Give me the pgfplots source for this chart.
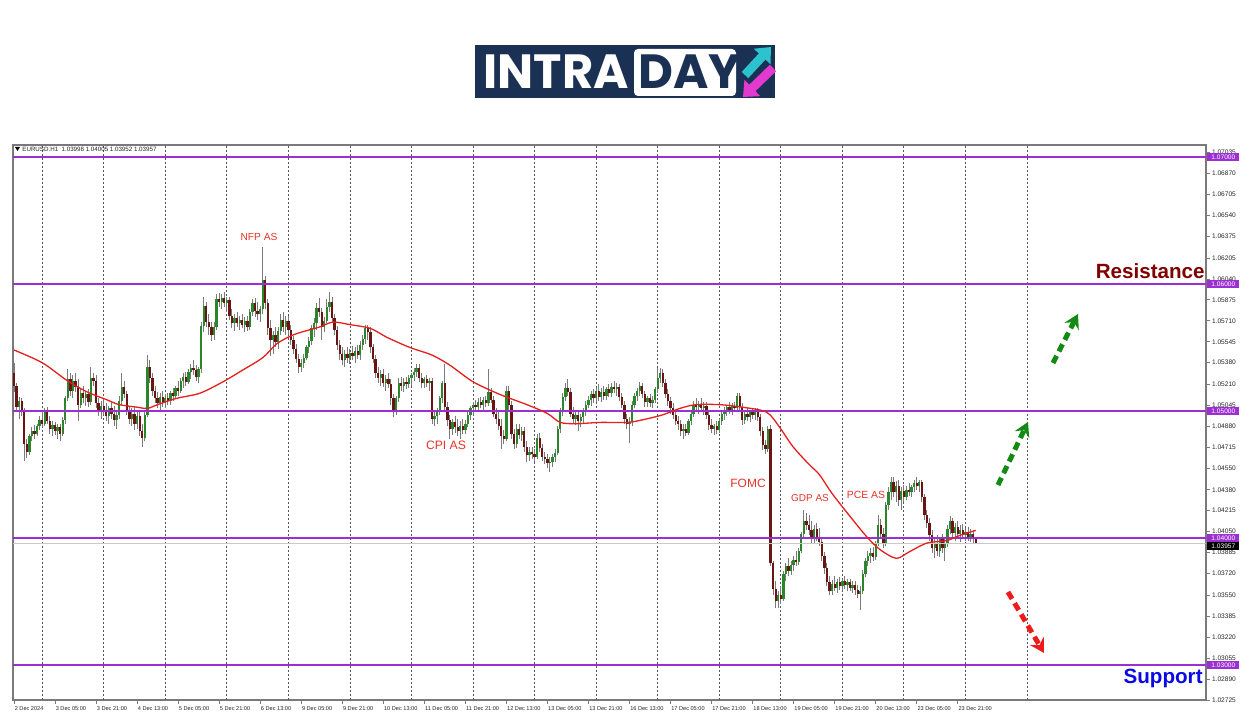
\documentclass[border=0pt]{standalone}
\usepackage{pgfplots}
\pgfplotsset{compat=1.18}
\usepackage{pgfplotstable}
\usepackage{fontspec}
\setmainfont{Liberation Sans}
\newfontfamily\logofont{Poppins}
\usetikzlibrary{arrows.meta}
\definecolor{bullc}{HTML}{2B862B}
\definecolor{bearc}{HTML}{6A1414}
\definecolor{wickc}{HTML}{7A7A7A}
\definecolor{mac}{HTML}{E5201E}
\definecolor{purplec}{HTML}{9B2FD1}
\definecolor{gridc}{HTML}{555555}
\definecolor{framec}{HTML}{7A7A7A}
\definecolor{labred}{HTML}{E4342B}
\definecolor{arrgreen}{HTML}{138A13}
\definecolor{arrred}{HTML}{F01A1A}
\definecolor{navy}{HTML}{1B3154}
\definecolor{cyanc}{HTML}{2CC3CE}
\definecolor{magc}{HTML}{E23ACF}
\definecolor{resc}{HTML}{800000}
\definecolor{supc}{HTML}{0A0AE6}
\definecolor{bidc}{HTML}{C8C8C8}
\newcommand{\mtfont}{\fontsize{3.3}{4}\selectfont}
\newcommand{\xfont}{\fontsize{2.8}{3.4}\selectfont}
\pgfplotstableread{
i o h l c
0 1.0530 1.0538 1.0515 1.0520
1 1.0520 1.0522 1.0500 1.0503
2 1.0503 1.0511 1.0494 1.0508
3 1.0508 1.0510 1.0496 1.0500
4 1.0500 1.0502 1.0461 1.0474
5 1.0474 1.0478 1.0463 1.0468
6 1.0468 1.0482 1.0465 1.0480
7 1.0480 1.0487 1.0476 1.0484
8 1.0484 1.0489 1.0478 1.0482
9 1.0482 1.0490 1.0480 1.0488
10 1.0488 1.0496 1.0485 1.0493
11 1.0493 1.0500 1.0487 1.0490
12 1.0490 1.0502 1.0488 1.0499
13 1.0499 1.0503 1.0490 1.0492
14 1.0492 1.0496 1.0482 1.0486
15 1.0486 1.0492 1.0480 1.0489
16 1.0489 1.0491 1.0481 1.0484
17 1.0484 1.0490 1.0478 1.0487
18 1.0487 1.0490 1.0476 1.0482
19 1.0482 1.0495 1.0480 1.0493
20 1.0493 1.0512 1.0490 1.0510
21 1.0510 1.0533 1.0508 1.0525
22 1.0525 1.0530 1.0512 1.0516
23 1.0516 1.0528 1.0510 1.0524
24 1.0524 1.0530 1.0515 1.0519
25 1.0519 1.0525 1.0492 1.0505
26 1.0505 1.0518 1.0502 1.0514
27 1.0514 1.0520 1.0506 1.0510
28 1.0510 1.0516 1.0504 1.0513
29 1.0513 1.0517 1.0503 1.0507
30 1.0507 1.0535 1.0505 1.0526
31 1.0526 1.0530 1.0520 1.0524
32 1.0524 1.0528 1.0502 1.0506
33 1.0506 1.0510 1.0496 1.0500
34 1.0500 1.0508 1.0494 1.0504
35 1.0504 1.0510 1.0497 1.0500
36 1.0500 1.0506 1.0492 1.0496
37 1.0496 1.0504 1.0490 1.0502
38 1.0502 1.0508 1.0494 1.0498
39 1.0498 1.0504 1.0488 1.0493
40 1.0493 1.0500 1.0486 1.0497
41 1.0497 1.0512 1.0494 1.0508
42 1.0508 1.0530 1.0505 1.0519
43 1.0519 1.0524 1.0510 1.0513
44 1.0513 1.0516 1.0497 1.0500
45 1.0500 1.0504 1.0490 1.0494
46 1.0494 1.0502 1.0488 1.0498
47 1.0498 1.0504 1.0485 1.0490
48 1.0490 1.0500 1.0486 1.0496
49 1.0496 1.0499 1.0480 1.0484
50 1.0484 1.0490 1.0472 1.0479
51 1.0479 1.0500 1.0476 1.0497
52 1.0497 1.0544 1.0495 1.0535
53 1.0535 1.0540 1.0522 1.0526
54 1.0526 1.0530 1.0512 1.0516
55 1.0516 1.0520 1.0506 1.0510
56 1.0510 1.0515 1.0502 1.0506
57 1.0506 1.0514 1.0500 1.0511
58 1.0511 1.0516 1.0503 1.0507
59 1.0507 1.0513 1.0502 1.0510
60 1.0510 1.0514 1.0505 1.0508
61 1.0508 1.0516 1.0505 1.0514
62 1.0514 1.0518 1.0508 1.0512
63 1.0512 1.0520 1.0510 1.0518
64 1.0518 1.0524 1.0512 1.0516
65 1.0516 1.0526 1.0514 1.0524
66 1.0524 1.0530 1.0518 1.0527
67 1.0527 1.0531 1.0520 1.0523
68 1.0523 1.0533 1.0521 1.0531
69 1.0531 1.0537 1.0525 1.0534
70 1.0534 1.0540 1.0528 1.0532
71 1.0532 1.0536 1.0524 1.0527
72 1.0527 1.0535 1.0522 1.0533
73 1.0533 1.0570 1.0530 1.0567
74 1.0567 1.0590 1.0562 1.0583
75 1.0583 1.0586 1.0566 1.0570
76 1.0570 1.0576 1.0560 1.0566
77 1.0566 1.0570 1.0555 1.0560
78 1.0560 1.0570 1.0556 1.0566
79 1.0566 1.0592 1.0564 1.0588
80 1.0588 1.0593 1.0582 1.0586
81 1.0586 1.0592 1.0580 1.0589
82 1.0589 1.0594 1.0582 1.0585
83 1.0585 1.0590 1.0578 1.0587
84 1.0587 1.0590 1.0572 1.0575
85 1.0575 1.0580 1.0565 1.0569
86 1.0569 1.0576 1.0563 1.0573
87 1.0573 1.0578 1.0566 1.0569
88 1.0569 1.0575 1.0564 1.0572
89 1.0572 1.0576 1.0565 1.0568
90 1.0568 1.0574 1.0562 1.0571
91 1.0571 1.0575 1.0563 1.0566
92 1.0566 1.0580 1.0564 1.0578
93 1.0578 1.0588 1.0575 1.0585
94 1.0585 1.0589 1.0574 1.0579
95 1.0579 1.0586 1.0572 1.0576
96 1.0576 1.0583 1.0570 1.0580
97 1.0580 1.0629 1.0576 1.0603
98 1.0603 1.0606 1.0580 1.0585
99 1.0585 1.0588 1.0560 1.0565
100 1.0565 1.0572 1.0543 1.0556
101 1.0556 1.0563 1.0545 1.0560
102 1.0560 1.0566 1.0550 1.0554
103 1.0554 1.0566 1.0549 1.0563
104 1.0563 1.0576 1.0560 1.0572
105 1.0572 1.0578 1.0562 1.0566
106 1.0566 1.0575 1.0560 1.0571
107 1.0571 1.0575 1.0560 1.0564
108 1.0564 1.0568 1.0552 1.0556
109 1.0556 1.0559 1.0545 1.0549
110 1.0549 1.0553 1.0538 1.0541
111 1.0541 1.0545 1.0530 1.0535
112 1.0535 1.0541 1.0531 1.0538
113 1.0538 1.0545 1.0534 1.0542
114 1.0542 1.0552 1.0540 1.0550
115 1.0550 1.0558 1.0546 1.0555
116 1.0555 1.0568 1.0552 1.0565
117 1.0565 1.0573 1.0558 1.0569
118 1.0569 1.0585 1.0564 1.0581
119 1.0581 1.0589 1.0574 1.0578
120 1.0578 1.0581 1.0556 1.0566
121 1.0566 1.0574 1.0562 1.0571
122 1.0571 1.0588 1.0569 1.0582
123 1.0582 1.0594 1.0578 1.0586
124 1.0586 1.0590 1.0570 1.0573
125 1.0573 1.0576 1.0560 1.0564
126 1.0564 1.0567 1.0548 1.0552
127 1.0552 1.0556 1.0540 1.0545
128 1.0545 1.0550 1.0536 1.0540
129 1.0540 1.0548 1.0535 1.0545
130 1.0545 1.0550 1.0538 1.0542
131 1.0542 1.0549 1.0537 1.0546
132 1.0546 1.0551 1.0540 1.0543
133 1.0543 1.0550 1.0538 1.0547
134 1.0547 1.0552 1.0541 1.0544
135 1.0544 1.0555 1.0540 1.0552
136 1.0552 1.0560 1.0548 1.0557
137 1.0557 1.0568 1.0553 1.0565
138 1.0565 1.0568 1.0556 1.0562
139 1.0562 1.0566 1.0546 1.0550
140 1.0550 1.0553 1.0538 1.0541
141 1.0541 1.0544 1.0526 1.0530
142 1.0530 1.0535 1.0522 1.0526
143 1.0526 1.0532 1.0520 1.0529
144 1.0529 1.0533 1.0519 1.0522
145 1.0522 1.0528 1.0516 1.0525
146 1.0525 1.0530 1.0518 1.0521
147 1.0521 1.0525 1.0505 1.0510
148 1.0510 1.0513 1.0495 1.0500
149 1.0500 1.0512 1.0497 1.0510
150 1.0510 1.0526 1.0507 1.0522
151 1.0522 1.0527 1.0516 1.0520
152 1.0520 1.0526 1.0515 1.0523
153 1.0523 1.0527 1.0517 1.0521
154 1.0521 1.0528 1.0518 1.0526
155 1.0526 1.0530 1.0520 1.0528
156 1.0528 1.0534 1.0524 1.0531
157 1.0531 1.0537 1.0527 1.0534
158 1.0534 1.0537 1.0523 1.0526
159 1.0526 1.0530 1.0518 1.0522
160 1.0522 1.0527 1.0518 1.0525
161 1.0525 1.0528 1.0519 1.0522
162 1.0522 1.0526 1.0516 1.0524
163 1.0524 1.0526 1.0490 1.0494
164 1.0494 1.0500 1.0488 1.0496
165 1.0496 1.0502 1.0490 1.0499
166 1.0499 1.0512 1.0497 1.0510
167 1.0510 1.0524 1.0506 1.0522
168 1.0522 1.0537 1.0500 1.0503
169 1.0503 1.0507 1.0488 1.0493
170 1.0493 1.0497 1.0478 1.0486
171 1.0486 1.0494 1.0481 1.0491
172 1.0491 1.0496 1.0483 1.0487
173 1.0487 1.0494 1.0480 1.0484
174 1.0484 1.0492 1.0478 1.0488
175 1.0488 1.0494 1.0482 1.0485
176 1.0485 1.0493 1.0482 1.0490
177 1.0490 1.0499 1.0487 1.0497
178 1.0497 1.0504 1.0493 1.0502
179 1.0502 1.0507 1.0497 1.0505
180 1.0505 1.0509 1.0500 1.0503
181 1.0503 1.0510 1.0499 1.0507
182 1.0507 1.0511 1.0502 1.0505
183 1.0505 1.0511 1.0501 1.0509
184 1.0509 1.0512 1.0503 1.0506
185 1.0506 1.0533 1.0504 1.0515
186 1.0515 1.0518 1.0506 1.0509
187 1.0509 1.0512 1.0495 1.0498
188 1.0498 1.0502 1.0490 1.0494
189 1.0494 1.0500 1.0485 1.0488
190 1.0488 1.0494 1.0470 1.0480
191 1.0480 1.0485 1.0474 1.0478
192 1.0478 1.0520 1.0476 1.0516
193 1.0516 1.0520 1.0500 1.0505
194 1.0505 1.0508 1.0478 1.0482
195 1.0482 1.0486 1.0470 1.0474
196 1.0474 1.0490 1.0471 1.0486
197 1.0486 1.0490 1.0478 1.0481
198 1.0481 1.0487 1.0476 1.0484
199 1.0484 1.0487 1.0468 1.0472
200 1.0472 1.0476 1.0460 1.0465
201 1.0465 1.0472 1.0461 1.0468
202 1.0468 1.0472 1.0462 1.0466
203 1.0466 1.0470 1.0460 1.0464
204 1.0464 1.0482 1.0462 1.0479
205 1.0479 1.0483 1.0468 1.0471
206 1.0471 1.0474 1.0461 1.0464
207 1.0464 1.0468 1.0458 1.0462
208 1.0462 1.0466 1.0455 1.0459
209 1.0459 1.0464 1.0452 1.0460
210 1.0460 1.0466 1.0456 1.0464
211 1.0464 1.0470 1.0460 1.0467
212 1.0467 1.0488 1.0465 1.0486
213 1.0486 1.0502 1.0483 1.0499
214 1.0499 1.0514 1.0496 1.0511
215 1.0511 1.0522 1.0508 1.0518
216 1.0518 1.0525 1.0512 1.0515
217 1.0515 1.0518 1.0495 1.0498
218 1.0498 1.0503 1.0490 1.0494
219 1.0494 1.0500 1.0489 1.0497
220 1.0497 1.0501 1.0484 1.0492
221 1.0492 1.0498 1.0487 1.0495
222 1.0495 1.0502 1.0490 1.0499
223 1.0499 1.0508 1.0496 1.0505
224 1.0505 1.0512 1.0502 1.0509
225 1.0509 1.0516 1.0504 1.0513
226 1.0513 1.0517 1.0506 1.0510
227 1.0510 1.0518 1.0507 1.0516
228 1.0516 1.0521 1.0508 1.0511
229 1.0511 1.0518 1.0507 1.0515
230 1.0515 1.0520 1.0509 1.0512
231 1.0512 1.0519 1.0509 1.0517
232 1.0517 1.0521 1.0511 1.0514
233 1.0514 1.0522 1.0511 1.0519
234 1.0519 1.0524 1.0514 1.0517
235 1.0517 1.0522 1.0512 1.0519
236 1.0519 1.0521 1.0508 1.0511
237 1.0511 1.0514 1.0502 1.0505
238 1.0505 1.0508 1.0490 1.0494
239 1.0494 1.0498 1.0486 1.0490
240 1.0490 1.0495 1.0475 1.0491
241 1.0491 1.0508 1.0488 1.0505
242 1.0505 1.0514 1.0502 1.0512
243 1.0512 1.0518 1.0508 1.0516
244 1.0516 1.0523 1.0512 1.0520
245 1.0520 1.0522 1.0510 1.0513
246 1.0513 1.0516 1.0503 1.0507
247 1.0507 1.0512 1.0503 1.0510
248 1.0510 1.0513 1.0503 1.0506
249 1.0506 1.0512 1.0502 1.0509
250 1.0509 1.0519 1.0506 1.0517
251 1.0517 1.0534 1.0514 1.0526
252 1.0526 1.0534 1.0522 1.0530
253 1.0530 1.0533 1.0519 1.0522
254 1.0522 1.0525 1.0510 1.0513
255 1.0513 1.0517 1.0504 1.0508
256 1.0508 1.0511 1.0498 1.0502
257 1.0502 1.0506 1.0494 1.0497
258 1.0497 1.0500 1.0489 1.0492
259 1.0492 1.0496 1.0485 1.0490
260 1.0490 1.0493 1.0480 1.0484
261 1.0484 1.0490 1.0478 1.0486
262 1.0486 1.0490 1.0480 1.0483
263 1.0483 1.0494 1.0481 1.0492
264 1.0492 1.0500 1.0489 1.0498
265 1.0498 1.0508 1.0495 1.0505
266 1.0505 1.0510 1.0500 1.0503
267 1.0503 1.0508 1.0498 1.0505
268 1.0505 1.0510 1.0500 1.0502
269 1.0502 1.0507 1.0497 1.0504
270 1.0504 1.0507 1.0494 1.0497
271 1.0497 1.0500 1.0485 1.0489
272 1.0489 1.0494 1.0483 1.0486
273 1.0486 1.0490 1.0481 1.0488
274 1.0488 1.0492 1.0482 1.0485
275 1.0485 1.0494 1.0483 1.0492
276 1.0492 1.0500 1.0489 1.0498
277 1.0498 1.0503 1.0493 1.0500
278 1.0500 1.0505 1.0496 1.0503
279 1.0503 1.0507 1.0498 1.0501
280 1.0501 1.0506 1.0497 1.0504
281 1.0504 1.0507 1.0499 1.0502
282 1.0502 1.0514 1.0500 1.0512
283 1.0512 1.0514 1.0500 1.0503
284 1.0503 1.0506 1.0489 1.0493
285 1.0493 1.0501 1.0490 1.0498
286 1.0498 1.0502 1.0492 1.0495
287 1.0495 1.0501 1.0491 1.0499
288 1.0499 1.0502 1.0494 1.0497
289 1.0497 1.0502 1.0493 1.0500
290 1.0500 1.0502 1.0492 1.0495
291 1.0495 1.0498 1.0480 1.0484
292 1.0484 1.0487 1.0469 1.0473
293 1.0473 1.0477 1.0466 1.0470
294 1.0470 1.0488 1.0468 1.0486
295 1.0486 1.0489 1.0378 1.0380
296 1.0380 1.0382 1.0355 1.0360
297 1.0360 1.0366 1.0345 1.0350
298 1.0350 1.0358 1.0345 1.0355
299 1.0355 1.0362 1.0348 1.0352
300 1.0352 1.0374 1.0350 1.0372
301 1.0372 1.0380 1.0366 1.0378
302 1.0378 1.0384 1.0370 1.0374
303 1.0374 1.0382 1.0371 1.0379
304 1.0379 1.0386 1.0374 1.0383
305 1.0383 1.0390 1.0378 1.0381
306 1.0381 1.0392 1.0379 1.0390
307 1.0390 1.0405 1.0388 1.0403
308 1.0403 1.0422 1.0400 1.0413
309 1.0413 1.0420 1.0406 1.0410
310 1.0410 1.0418 1.0402 1.0406
311 1.0406 1.0413 1.0396 1.0399
312 1.0399 1.0410 1.0396 1.0407
313 1.0407 1.0412 1.0398 1.0401
314 1.0401 1.0408 1.0394 1.0397
315 1.0397 1.0400 1.0382 1.0386
316 1.0386 1.0389 1.0372 1.0376
317 1.0376 1.0380 1.0362 1.0365
318 1.0365 1.0370 1.0355 1.0358
319 1.0358 1.0367 1.0355 1.0364
320 1.0364 1.0370 1.0358 1.0361
321 1.0361 1.0368 1.0357 1.0365
322 1.0365 1.0369 1.0359 1.0362
323 1.0362 1.0368 1.0358 1.0366
324 1.0366 1.0370 1.0360 1.0363
325 1.0363 1.0368 1.0358 1.0365
326 1.0365 1.0368 1.0358 1.0361
327 1.0361 1.0366 1.0357 1.0363
328 1.0363 1.0366 1.0355 1.0359
329 1.0359 1.0363 1.0353 1.0356
330 1.0356 1.0362 1.0343 1.0358
331 1.0358 1.0375 1.0356 1.0372
332 1.0372 1.0384 1.0369 1.0382
333 1.0382 1.0390 1.0378 1.0386
334 1.0386 1.0392 1.0380 1.0388
335 1.0388 1.0393 1.0382 1.0385
336 1.0385 1.0398 1.0383 1.0396
337 1.0396 1.0418 1.0394 1.0410
338 1.0410 1.0415 1.0400 1.0403
339 1.0403 1.0408 1.0392 1.0396
340 1.0396 1.0428 1.0394 1.0426
341 1.0426 1.0440 1.0422 1.0436
342 1.0436 1.0448 1.0430 1.0444
343 1.0444 1.0448 1.0432 1.0436
344 1.0436 1.0445 1.0428 1.0441
345 1.0441 1.0446 1.0425 1.0430
346 1.0430 1.0440 1.0422 1.0437
347 1.0437 1.0442 1.0428 1.0432
348 1.0432 1.0441 1.0430 1.0438
349 1.0438 1.0443 1.0433 1.0436
350 1.0436 1.0442 1.0432 1.0440
351 1.0440 1.0446 1.0436 1.0443
352 1.0443 1.0448 1.0438 1.0441
353 1.0441 1.0446 1.0436 1.0444
354 1.0444 1.0446 1.0428 1.0432
355 1.0432 1.0435 1.0414 1.0418
356 1.0418 1.0422 1.0408 1.0412
357 1.0412 1.0416 1.0398 1.0402
358 1.0402 1.0406 1.0388 1.0392
359 1.0392 1.0400 1.0384 1.0396
360 1.0396 1.0402 1.0386 1.0390
361 1.0390 1.0401 1.0385 1.0399
362 1.0399 1.0403 1.0388 1.0392
363 1.0392 1.0399 1.0382 1.0395
364 1.0395 1.0410 1.0393 1.0407
365 1.0407 1.0417 1.0403 1.0413
366 1.0413 1.0416 1.0400 1.0404
367 1.0404 1.0412 1.0398 1.0409
368 1.0409 1.0413 1.0399 1.0403
369 1.0403 1.0410 1.0397 1.0406
370 1.0406 1.0411 1.0400 1.0402
371 1.0402 1.0408 1.0398 1.0405
372 1.0405 1.0409 1.0398 1.0400
373 1.0400 1.0407 1.0397 1.0403
374 1.0403 1.0406 1.0396 1.0399
375 1.03998 1.04005 1.03952 1.03957
}\candles
\begin{document}
\begin{tikzpicture}
\fill[white] (0,0) rectangle (625pt,358pt);
\begin{axis}[
  at={(6.5pt,8pt)}, anchor=south west,
  scale only axis, width=596.5pt, height=277.5pt,
  xmin=-0.39, xmax=464.8, ymin=1.027244, ymax=1.070945,
  axis line style={draw=framec, line width=0.6pt},
  xtick={0,16,...,368},
  xticklabels={2 Dec 2024,3 Dec 05:00,3 Dec 21:00,4 Dec 13:00,5 Dec 05:00,5 Dec 21:00,6 Dec 13:00,9 Dec 05:00,9 Dec 21:00,10 Dec 13:00,11 Dec 05:00,11 Dec 21:00,12 Dec 13:00,13 Dec 05:00,13 Dec 21:00,16 Dec 13:00,17 Dec 05:00,17 Dec 21:00,18 Dec 13:00,19 Dec 05:00,19 Dec 21:00,20 Dec 13:00,23 Dec 05:00,23 Dec 21:00},
  xtick pos=bottom, ytick pos=right, yticklabel pos=right,
  tick align=outside, major tick length=2pt,
  tick style={draw=framec, line width=0.4pt},
  xticklabel style={anchor=north west, font=\xfont, inner sep=0pt, xshift=0.2pt, yshift=-0.9pt, text=black!85},
  ytick={1.02725,1.02890,1.03055,1.03220,1.03385,1.03550,1.03720,1.03885,1.04050,1.04215,1.04380,1.04550,1.04715,1.04880,1.05045,1.05210,1.05380,1.05545,1.05710,1.05875,1.06040,1.06205,1.06375,1.06540,1.06705,1.06870,1.07035},
  yticklabels={1.02725,1.02890,1.03055,1.03220,1.03385,1.03550,1.03720,1.03885,1.04050,1.04215,1.04380,1.04550,1.04715,1.04880,1.05045,1.05210,1.05380,1.05545,1.05710,1.05875,1.06040,1.06205,1.06375,1.06540,1.06705,1.06870,1.07035},
  yticklabel style={anchor=west, font=\mtfont, inner sep=0pt, xshift=0.8pt, text=black!85},
  extra x ticks={11,35,...,395},
  extra x tick labels={},
  extra x tick style={grid=major, major tick length=0pt, major grid style={draw=gridc, line width=0.45pt, dash pattern=on 1pt off 1pt}},
]
% wicks
\addplot[draw=none, forget plot, error bars/.cd, y dir=plus, y explicit, error mark=none,
  error bar style={draw=wickc, line width=0.5pt, solid}]
  table[x=i, y=l, y error plus expr={\thisrow{h}-\thisrow{l}}] {\candles};
% bull bodies
\addplot[draw=none, forget plot, restrict expr to domain={\thisrow{c}-\thisrow{o}}{0:1},
  error bars/.cd, y dir=plus, y explicit, error mark=none,
  error bar style={draw=bullc, line width=1.15pt, solid}]
  table[x=i, y=o, y error plus expr={\thisrow{c}-\thisrow{o}}] {\candles};
% bear bodies
\addplot[draw=none, forget plot, restrict expr to domain={\thisrow{o}-\thisrow{c}}{0.000001:1},
  error bars/.cd, y dir=plus, y explicit, error mark=none,
  error bar style={draw=bearc, line width=1.15pt, solid}]
  table[x=i, y=c, y error plus expr={\thisrow{o}-\thisrow{c}}] {\candles};
% levels
\addplot[bidc, line width=0.4pt, forget plot] coordinates {(-1,1.03957) (466,1.03957)};
\addplot[purplec, line width=0.75pt, forget plot] coordinates {(-1,1.07) (466,1.07)};
\addplot[purplec, line width=0.75pt, forget plot] coordinates {(-1,1.06) (466,1.06)};
\addplot[purplec, line width=0.75pt, forget plot] coordinates {(-1,1.05) (466,1.05)};
\addplot[purplec, line width=0.75pt, forget plot] coordinates {(-1,1.04) (466,1.04)};
\addplot[purplec, line width=0.75pt, forget plot] coordinates {(-1,1.03) (466,1.03)};
% moving average
\addplot[mac, line width=0.65pt, smooth] coordinates {
(0,1.0548) (11,1.0538) (20.7,1.0524) (28.5,1.0515) (36,1.0509) (41,1.0505) (48,1.0503) (52,1.0502) (56,1.0505) (63.5,1.0510) (72.5,1.0514) (81.5,1.0523) (89,1.0532) (97,1.0542) (102.5,1.0553) (109,1.0560) (115.4,1.0564) (119,1.0566) (124.4,1.0570) (131,1.0568) (139,1.0565) (145.4,1.0558) (154.4,1.0550) (163,1.0544) (170,1.0536) (179,1.0523) (189.5,1.0513) (200,1.0505) (208,1.0498) (213,1.0491) (219.5,1.0490) (228.5,1.0491) (239,1.0491) (245,1.0493) (253,1.0497) (259.6,1.0502) (266,1.0505) (275,1.0505) (284,1.0503) (293.5,1.0499) (298.6,1.0487) (303.7,1.0472) (310,1.0458) (314,1.0450) (319,1.0435) (326,1.0417) (332.5,1.0401) (337.6,1.0391) (344,1.0384) (349,1.0389) (356,1.0396) (363.7,1.0398) (368.8,1.0402) (375,1.0406)};
\end{axis}
\begin{scope}[x=0.5pt,y=0.5pt]
% header
\fill[black] (15,569) -- (20,569) -- (17.5,565) -- cycle;
\node[anchor=west, font=\fontsize{3.1}{4}\selectfont, inner sep=0pt, text=black!85] at (22,567) {EURUSD.H1\ \ 1.03998 1.04005 1.03952 1.03957};
% logo
\fill[navy] (475,618) rectangle (775,671);
\node[anchor=base west, inner sep=0pt, text=white, font={\logofont\bfseries\fontsize{24}{24}\selectfont}] at (483,627) {INTRA};
\fill[white, rounded corners=2pt] (634,620) rectangle (736,667);
\node[anchor=base west, inner sep=0pt, text=navy, font={\logofont\bfseries\fontsize{24}{24}\selectfont}] at (638,627) {DAY};
\draw[cyanc, line width=4.5pt, -{Triangle[length=6.5pt,width=11pt]}] (745,641) -- (771,669);
\draw[magc, line width=4.5pt, -{Triangle[length=6.5pt,width=11pt]}] (773,648) -- (743,619);
% event labels
\node[text=labred, font=\fontsize{5.1}{6}\selectfont] at (259,479) {NFP AS};
\node[text=labred, font=\fontsize{6.1}{7}\selectfont] at (446,271) {CPI AS};
\node[text=labred, font=\fontsize{6}{7}\selectfont] at (748,233) {FOMC};
\node[text=labred, font=\fontsize{5}{6}\selectfont] at (810,218) {GDP AS};
\node[text=labred, font=\fontsize{5.2}{6}\selectfont] at (866,221) {PCE AS};
% resistance / support
\node[anchor=east, inner sep=0pt, text=resc, font=\bfseries\fontsize{10.3}{12}\selectfont] at (1205,445) {Resistance};
\node[anchor=east, inner sep=0pt, text=supc, font=\bfseries\fontsize{10.3}{12}\selectfont] at (1203,38) {Support};
% arrows
\draw[arrgreen, line width=2.5pt, dash pattern=on 4pt off 2.5pt, -{Stealth[length=7pt,width=8pt,inset=2.5pt]}] (998,231) -- (1028,294);
\draw[arrgreen, line width=2.5pt, dash pattern=on 4pt off 2.5pt, -{Stealth[length=7pt,width=8pt,inset=2.5pt]}] (1053,353) -- (1078,402);
\draw[arrred, line width=2.5pt, dash pattern=on 4pt off 2.5pt, -{Stealth[length=7pt,width=8pt,inset=2.5pt]}] (1008,124) -- (1044,63);
% price boxes
\foreach \yy/\tt in {559/1.07000,432/1.06000,305/1.05000,178/1.04000,51/1.03000}{
  \node[anchor=west, fill=purplec, text=white, inner sep=0pt, minimum width=16pt, minimum height=4.4pt, font=\mtfont] at (1207,\yy) {\tt};
}
\node[anchor=west, fill=black, text=white, inner sep=0pt, minimum width=16pt, minimum height=4.4pt, font=\mtfont] at (1207,170) {1.03957};
\end{scope}
\pgfresetboundingbox
\useasboundingbox (0,0) rectangle (625pt,358pt);
\end{tikzpicture}
\end{document}
